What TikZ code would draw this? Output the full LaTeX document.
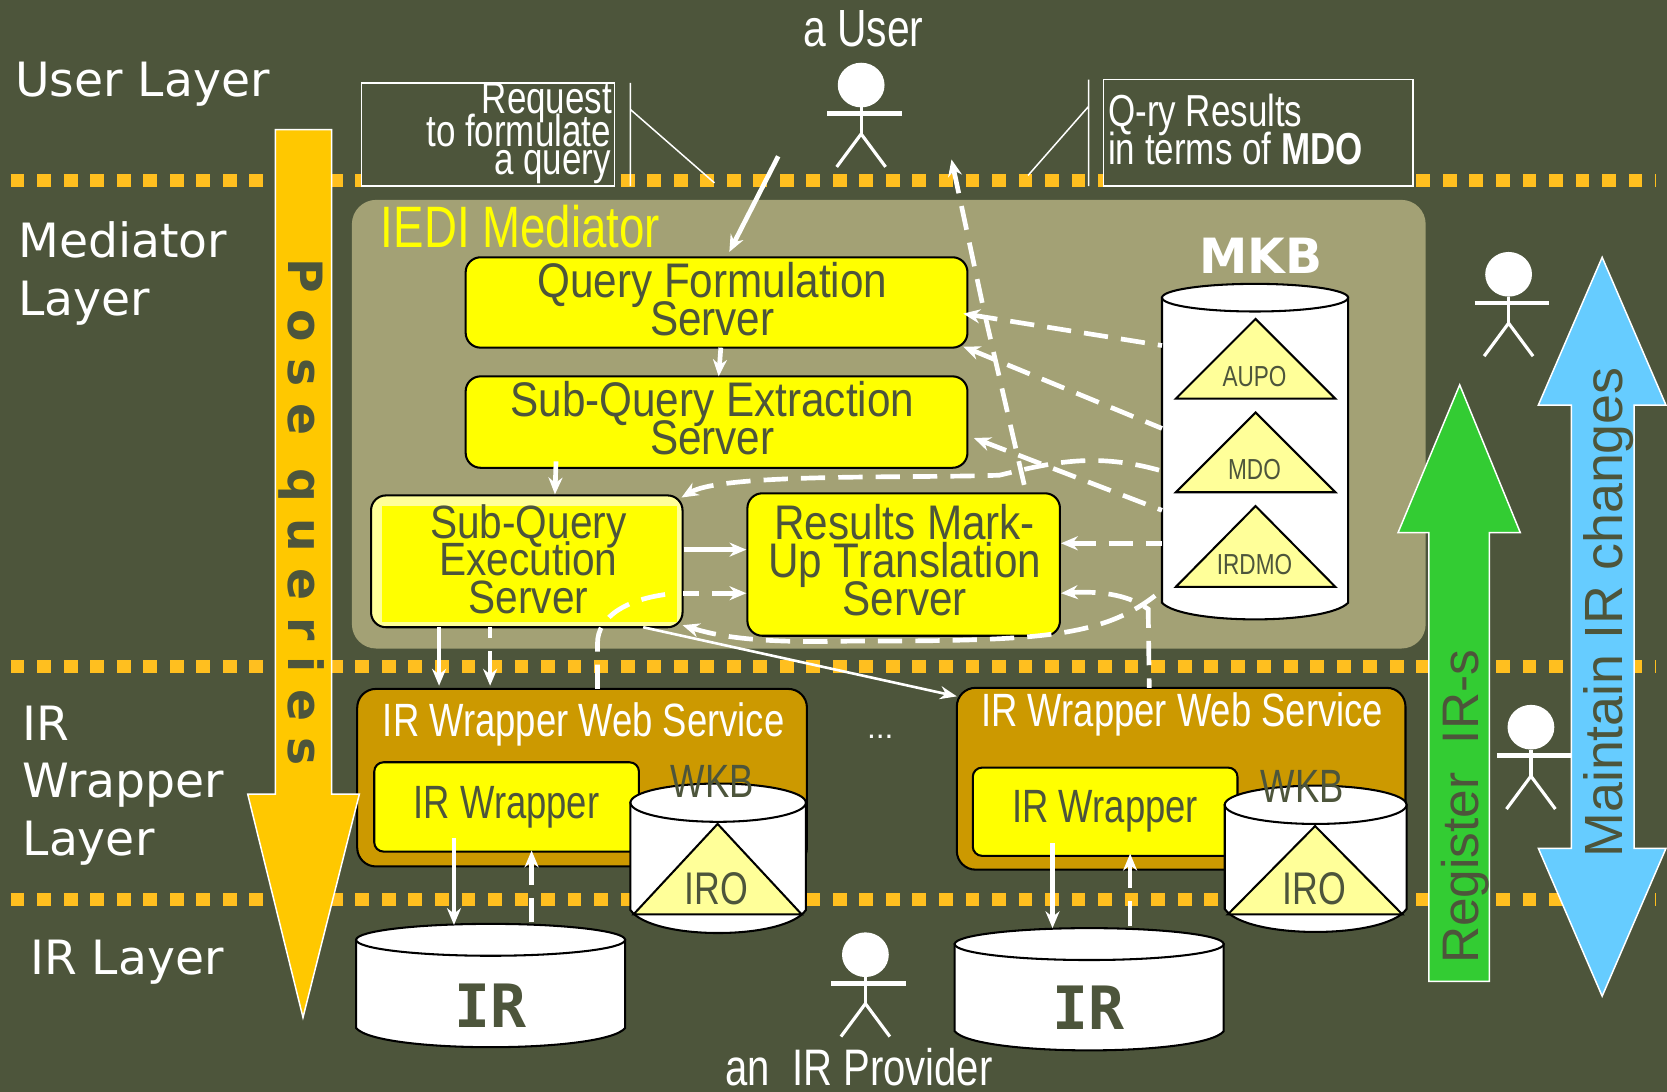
\documentclass[tikz,border=0pt]{standalone}
\usepackage{fontspec}
\setmainfont{Liberation Sans}
\newfontfamily\narrowfont[FakeStretch=0.78]{Liberation Sans}
\newfontfamily\serverfont[FakeStretch=0.87]{Liberation Sans}
\newfontfamily\widefont{DejaVu Sans}
\newfontfamily\slabfont{DejaVu Sans Mono}
\usetikzlibrary{arrows.meta, calc}

\definecolor{bgolive}{HTML}{4D553B}
\definecolor{panelolive}{HTML}{A3A175}
\definecolor{dotorange}{HTML}{FFBF1F}
\definecolor{poseorange}{HTML}{FFC800}
\definecolor{wrapbrown}{HTML}{CC9900}
\definecolor{paleyellow}{HTML}{FFFF99}
\definecolor{srvyellow}{HTML}{FFFF00}
\definecolor{regreen}{HTML}{33CC33}
\definecolor{mainblue}{HTML}{66CCFF}

\normallineskiplimit=-100pt
\lineskiplimit=-100pt

\begin{document}
\begin{tikzpicture}[
    x=0.02cm, y=-0.02cm,
    line join=miter,
    flow/.style={-{Stealth[length=9pt, width=7.5pt]}, white, line width=2.5pt},
    thinflow/.style={-{Stealth[length=9pt, width=7pt]}, white, line width=1.4pt},
    dashflow/.style={{Stealth[length=9pt, width=7.5pt]}-, white, line width=2.5pt, dash pattern=on 13pt off 7pt},
    dashline/.style={white, line width=2.5pt, dash pattern=on 13pt off 7pt},
    layerdots/.style={dotorange, line width=6.8pt, dash pattern=on 7.4pt off 6.8pt},
    layerlabel/.style={font=\widefont\fontsize{25.3}{31}\selectfont, text=white, align=left, anchor=west, inner sep=0pt},
    server/.style={draw=black, line width=1.1pt, fill=srvyellow, rounded corners=8pt, inner sep=0pt},
    servertext/.style={align=center, text=bgolive, inner sep=0pt, font=\serverfont\fontsize{26}{20.2}\selectfont},
    wrapbox/.style={draw=black, line width=1.1pt, fill=wrapbrown, rounded corners=10pt, inner sep=0pt},
    wraptitle/.style={font=\narrowfont\fontsize{25}{26}\selectfont, text=white, inner sep=0pt},
    dark/.style={font=\narrowfont\fontsize{#1}{#1}\selectfont, text=bgolive, inner sep=0pt},
    bigarrow/.style={draw=white, line width=0.8pt, line join=miter},
    callout/.style={draw=white, line width=0.8pt, fill=bgolive},
    calltext/.style={font=\narrowfont\fontsize{24}{16}\selectfont, text=white, inner sep=0pt},
    actorline/.style={draw=white, line width=1.7pt},
    personname/.style={font=\narrowfont\fontsize{#1}{#1}\selectfont, text=white, inner sep=0pt},
    irtext/.style={font=\slabfont\bfseries\fontsize{32}{32}\selectfont, text=bgolive, inner sep=0pt},
    store/.style={draw=black, line width=1.1pt, fill=white},
    onto/.style={draw=black, line width=1.1pt, fill=paleyellow},
]

% ===================== BACKGROUND =====================
\fill[bgolive] (0,0) rectangle (1568,1027);
\useasboundingbox (0,0) rectangle (1568,1027);

% layer separators
\foreach \y in {170, 627, 846} {
    \draw[layerdots] (10,\y) -- (1558,\y);
}

% ===================== LAYER LABELS =====================
\node[layerlabel] (userlayer) at (14,79) {User Layer};
\node[layerlabel] (medlayer) at (17,257) {Mediator\\Layer};
\node[layerlabel] (wraplayer) at (21,739) {IR\\Wrapper\\Layer};
\node[layerlabel] (irlayer) at (28,905) {IR Layer};

% ===================== CALLOUTS =====================
\node[callout, minimum width=238*0.02cm, minimum height=97*0.02cm, inner sep=0pt] (reqbox) at (459,126.5) {};
\node[calltext, anchor=east] (reqa) at (576,97) {Request};
\node[calltext, anchor=east] (reqb) at (575,123) {to formulate};
\node[calltext, anchor=east] (reqc) at (575,157) {a query};
\coordinate (reqtop) at (593,78);
\coordinate (reqbot) at (593,175);
\coordinate (reqknee) at (593,103);
\coordinate (reqtip) at (672,172);
\draw[white, line width=0.8pt] (reqtop) -- (reqbot) (reqknee) -- (reqtip);

\node[callout, minimum width=291*0.02cm, minimum height=100*0.02cm, inner sep=0pt] (resbox) at (1183.5,125) {};
\node[calltext, anchor=west] (resa) at (1042,108) {Q-ry Results};
\node[calltext, anchor=west] (resb) at (1042,140) {in terms of \textbf{MDO}};
\coordinate (restop) at (1024,75);
\coordinate (resbot) at (1024,175);
\coordinate (resknee) at (1024,100);
\coordinate (restip) at (967,165);
\draw[white, line width=0.8pt] (restop) -- (resbot) (resknee) -- (restip);

% ===================== ACTORS =====================
\foreach \name/\x/\y in {user/810/80, maint/1419/258, reg/1440/684, prov/814/898} {
    \fill[white] (\x,\y) ellipse [x radius=22, y radius=21];
    \draw[actorline] (\x,\y+21) -- (\x,\y+46);
    \draw[actorline, line width=2.6pt] (\x-32,\y+27) -- (\x+38,\y+27);
    \draw[actorline] (\x-23,\y+77) -- (\x,\y+46) -- (\x+23,\y+77);
}
\node[personname=28] (usertext) at (812,27) {a User};
\node[personname=27.5] (provtext) at (808,1004) {an\ \ IR Provider};

% ===================== MEDIATOR =====================
\fill[panelolive, rounded corners=13pt] (331,188) rectangle (1341,610);
\node[font=\narrowfont\fontsize{31.3}{31}\selectfont, text=srvyellow, inner sep=0pt, anchor=west] (iedi) at (358,213) {IEDI Mediator};

\node[server, minimum width=472*0.02cm, minimum height=85*0.02cm] (qf) at (674,284.5) {};
\node[servertext] at (670,281.5) {Query Formulation\\Server};
\node[server, minimum width=472*0.02cm, minimum height=86*0.02cm] (sqe) at (674,397) {};
\node[servertext] at (670,393) {Sub-Query Extraction\\Server};
\node[server, fill=paleyellow, minimum width=293*0.02cm, minimum height=124*0.02cm] (exec) at (495.5,528) {};
\fill[srvyellow] (359,476) rectangle (637,585);
\node[servertext, font=\serverfont\fontsize{25}{20}\selectfont] (exectext) at (497,526) {Sub-Query\\Execution\\Server};
\node[server, minimum width=294*0.02cm, minimum height=134*0.02cm] (trans) at (850,531) {};
\node[servertext] at (851,527) {Results Mark-\\Up Translation\\Server};

% ===================== WRAPPERS =====================
\node[wrapbox, minimum width=423*0.02cm, minimum height=167*0.02cm] (wspl) at (547.5,731.5) {};
\node[wrapbox, minimum width=422*0.02cm, minimum height=171*0.02cm] (wspr) at (1111,732.5) {};
\node[wraptitle] (wsl) at (549,681) {IR Wrapper Web Service};
\node[wraptitle] (wsr) at (1112,672) {IR Wrapper Web Service};
\node[server, rounded corners=5pt, minimum width=249*0.02cm, minimum height=84*0.02cm,
      text=bgolive, font=\narrowfont\fontsize{25}{25}\selectfont] (wrapl) at (476.5,759) {IR Wrapper};
\node[server, rounded corners=5pt, minimum width=249*0.02cm, minimum height=83*0.02cm,
      text=bgolive, font=\narrowfont\fontsize{25}{25}\selectfont] (wrapr) at (1039.5,763.5) {IR Wrapper};
\node[font=\fontsize{17}{17}\selectfont, text=white, inner sep=0pt] (dots) at (828,693) {...};

% ===================== STORES =====================
\node[font=\widefont\bfseries\fontsize{26}{26}\selectfont, text=white, inner sep=0pt] (mkbtext) at (1186,241) {MKB};

% cylinders: name / left / right / top / bottom / height of the cap
\foreach \name/\l/\r/\t/\b/\ry in {mkb/1093/1268/280/567/13, wkbl/593/758/755/856/18, wkbr/1152/1323/757/855/18, irl/335/588/884/967/15, irr/898/1151/888/970/15} {
    \draw[store] (\l,\t) -- (\l,\b)
        .. controls (\l+20,\b+\ry*1.6) and (\r-20,\b+\ry*1.6) .. (\r,\b) -- (\r,\t) -- cycle;
    \draw[store] ({(\l+\r)/2},\t) ellipse [x radius={(\r-\l)/2}, y radius=\ry];
}

% triangles: apex x / apex y / half width / base y / label y / label
\foreach \x/\y/\w/\b/\ly/\lab/\fs in {1181/300/75/375/354/AUPO/15.5, 1181/388/75/463/442/MDO/15.5, 1181/476/75/552/531/IRDMO/15.5, 675/775/79/860/836/IRO/24.5, 1237/777/82/860/836/IRO/24.5} {
    \draw[onto] (\x,\y) -- (\x+\w,\b) -- (\x-\w,\b) -- cycle;
    \node[dark=\fs] at (\x-1,\ly) {\lab};
}
\node[dark=25] (wkbltext) at (670,735) {WKB};
\node[dark=25] (wkbrtext) at (1225,740) {WKB};
\node[irtext] (irltext) at (461,946) {IR};
\node[irtext] (irrtext) at (1024,948) {IR};

% ===================== BIG ARROWS =====================
\draw[bigarrow, fill=poseorange] (259,122) -- (312,122) -- (312,747) -- (338,747) -- (285,957) -- (233,747) -- (259,747) -- cycle;
\node[rotate=-90, font=\widefont\bfseries\fontsize{25.3}{25}\selectfont, text=bgolive, inner sep=0pt] (pose) at (284,482) {P o s e\ \ q u e r i e s};

\draw[bigarrow, fill=regreen] (1344,923) -- (1344,501) -- (1315,501) -- (1373,362) -- (1430,501) -- (1401,501) -- (1401,923) -- cycle;
\node[rotate=90, font=\fontsize{27.5}{27}\selectfont, text=bgolive, inner sep=0pt] (register) at (1378,759) {Register\ \ IR-s};

\draw[bigarrow, fill=mainblue] (1507,242) -- (1567,381) -- (1537,381) -- (1537,798) -- (1567,798) -- (1507,937) -- (1447,798) -- (1478,798) -- (1478,381) -- (1447,381) -- cycle;
\node[rotate=90, font=\fontsize{28.8}{29}\selectfont, text=bgolive, inner sep=0pt] (maintain) at (1513,576) {Maintain IR changes};

% ===================== CONNECTORS =====================
\coordinate (userout) at (732,147);
\coordinate (resultsout) at (895,150);
\coordinate (mkba) at (1093,325);
\coordinate (mkbb) at (1093,403);
\coordinate (mkbc) at (1093,443);
\coordinate (mkbd) at (1093,480);
\coordinate (mkbe) at (1093,511);
\coordinate (mkbf) at (1093,555);
\coordinate (qfa) at (906,295);
\coordinate (qfb) at (906,326);
\coordinate (sqea) at (916,412);
\coordinate (hub) at (1080,573);
\coordinate (wspltop) at (562,648);
\coordinate (wsprtop) at (1081,647);

\draw[flow] (userout) -- (686,237);
\draw[flow] (678,327) -- (676,354);
\draw[flow] (523,434) -- (522,465);

% results up to the user
\draw[dashflow] (resultsout) -- (925,290) -- (trans.north -| 965,0);

% from MKB
\draw[dashflow] (qfa) -- (mkba);
\draw[dashflow] (qfb) -- (mkbb);
\draw[dashflow] (sqea) -- (mkbd);
\draw[dashflow] (641,468) .. controls (680,445) and (850,450) .. (940,447)
    .. controls (990,435) and (1030,425) .. (mkbc);
\draw[dashflow] (trans.east |- mkbe) -- (mkbe);
\draw[dashflow] (642,588) .. controls (680,600) and (720,605) .. (800,603)
    .. controls (980,603) and (1040,600) .. (mkbf);

% between the servers
\draw[flow] (exec.east |- 0,517) -- (trans.west |- 0,517);
\draw[dashflow] (trans.west |- 0,558) -- (642,558);

% back from the wrappers
\draw[dashline] (wspltop) -- (562,605) .. controls (562,580) and (590,562) .. (636,558);
\draw[dashflow] (trans.east |- 0,558) .. controls (1030,556) and (1060,558) .. (hub) -- (wsprtop);

% down to the wrappers
\draw[flow] (413,590) -- (413,645);
\draw[dashflow] (461,645) -- (461,590);
\draw[thinflow] (605,590) -- (900,655);

% wrappers and IR stores
\draw[flow] (427,788) -- (427,870);
\draw[dashflow] (500,800) -- (500,868);
\draw[flow] (990,793) -- (990,873);
\draw[dashflow] (1063,803) -- (1063,873);

\end{tikzpicture}
\end{document}
